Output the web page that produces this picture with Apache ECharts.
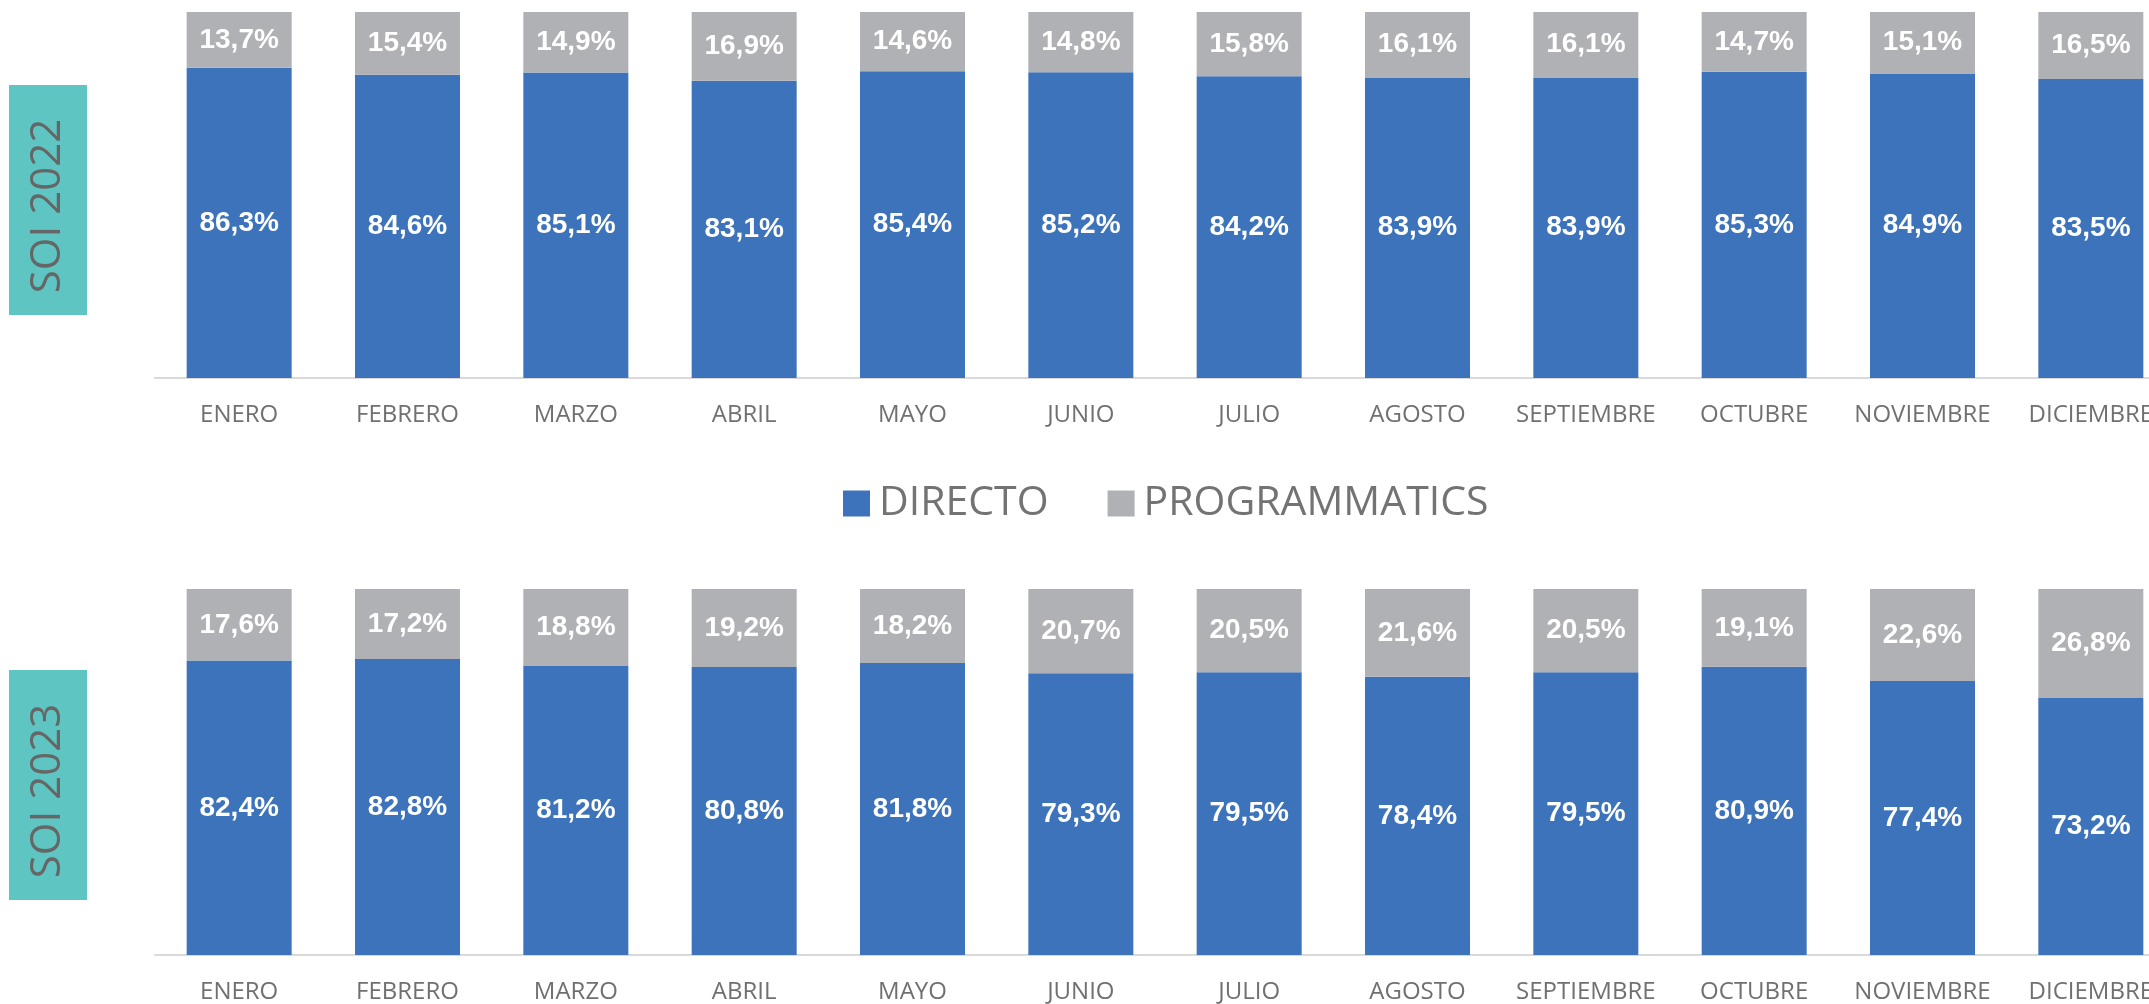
<!DOCTYPE html>
<html>
<head>
<meta charset="utf-8">
<title>SOI 2022 / 2023 - Directo vs Programmatics</title>
<script src="https://cdn.jsdelivr.net/npm/echarts@6/dist/echarts.min.js"></script>
<style>
  html, body { margin: 0; padding: 0; background: #ffffff; }
  #chart { width: 2149px; height: 1004px; }
</style>
</head>
<body>
<div id="chart"></div>
<script>
// datos
const meses = ['ENERO', 'FEBRERO', 'MARZO', 'ABRIL', 'MAYO', 'JUNIO', 'JULIO', 'AGOSTO', 'SEPTIEMBRE', 'OCTUBRE', 'NOVIEMBRE', 'DICIEMBRE'];
const directo2022 = [86.3, 84.6, 85.1, 83.1, 85.4, 85.2, 84.2, 83.9, 83.9, 85.3, 84.9, 83.5];
const programmatics2022 = [13.7, 15.4, 14.9, 16.9, 14.6, 14.8, 15.8, 16.1, 16.1, 14.7, 15.1, 16.5];
const directo2023 = [82.4, 82.8, 81.2, 80.8, 81.8, 79.3, 79.5, 78.4, 79.5, 80.9, 77.4, 73.2];
const programmatics2023 = [17.6, 17.2, 18.8, 19.2, 18.2, 20.7, 20.5, 21.6, 20.5, 19.1, 22.6, 26.8];
const periodos = ['SOI 2022', 'SOI 2023'];

const AZUL = '#3d73ba';
const GRIS = '#b0b1b4';
const TEXTO = '#707070';

const chart = echarts.init(document.getElementById('chart'));

const fmt = (p) => p.value.toFixed(1).replace('.', ',') + '%';

const barLabel = {
  show: true,
  position: 'inside',
  color: '#ffffff',
  fontFamily: 'Liberation Sans, Arial, sans-serif',
  fontWeight: 'bold',
  fontSize: 28,
  formatter: fmt,
};

const xAxisBase = (gridIndex) => ({
  type: 'category',
  gridIndex,
  data: meses,
  axisTick: { show: false },
  axisLine: { lineStyle: { color: '#d9d9d9', width: 2 } },
  axisLabel: {
    interval: 0,
    margin: 25,
    color: TEXTO,
    fontFamily: 'Open Sans, sans-serif',
    fontSize: 24,
  },
});

const yAxisBase = (gridIndex) => ({
  type: 'value',
  gridIndex,
  min: 10,
  max: 100,
  show: false,
  splitLine: { show: false },
});

const serie = (name, data, idx, color) => ({
  name,
  type: 'bar',
  stack: 'total' + idx,
  xAxisIndex: idx,
  yAxisIndex: idx,
  barWidth: 105,
  itemStyle: { color },
  label: barLabel,
  data,
});

// cajas laterales (SOI 2022 / SOI 2023)
const cajas = [
  { top: 85, centro: 206 },
  { top: 670, centro: 791 },
];
const graficos = [];
cajas.forEach((c, i) => {
  graficos.push({
    type: 'rect',
    shape: { x: 9, y: c.top, width: 78, height: 230 },
    style: { fill: '#5ec5c2' },
  });
  graficos.push({
    type: 'text',
    x: 48,
    y: c.centro,
    rotation: Math.PI / 2,
    style: {
      text: periodos[i],
      fill: '#666666',
      font: '42px "Open Sans", sans-serif',
      align: 'center',
      verticalAlign: 'middle',
    },
  });
});

const option = {
  backgroundColor: '#ffffff',
  animation: false,
  legend: {
    data: ['DIRECTO', 'PROGRAMMATICS'],
    left: 838,
    top: 478,
    icon: 'rect',
    itemWidth: 27,
    itemHeight: 26,
    itemGap: 59,
    textStyle: {
      color: '#737373',
      fontFamily: 'Open Sans, sans-serif',
      fontSize: 41,
      padding: [0, 0, 0, 4],
    },
  },
  // la rejilla sigue más allá del borde derecho (DICIEMBRE queda cortado)
  grid: [
    { left: 155, width: 2020, top: 12, height: 366, outerBoundsMode: 'none' },
    { left: 155, width: 2020, top: 589, height: 366, outerBoundsMode: 'none' },
  ],
  xAxis: [xAxisBase(0), xAxisBase(1)],
  yAxis: [yAxisBase(0), yAxisBase(1)],
  series: [
    serie('DIRECTO', directo2022, 0, AZUL),
    serie('PROGRAMMATICS', programmatics2022, 0, GRIS),
    serie('DIRECTO', directo2023, 1, AZUL),
    serie('PROGRAMMATICS', programmatics2023, 1, GRIS),
  ],
  graphic: graficos,
};

chart.setOption(option);
window.addEventListener('resize', () => chart.resize());
</script>
</body>
</html>
